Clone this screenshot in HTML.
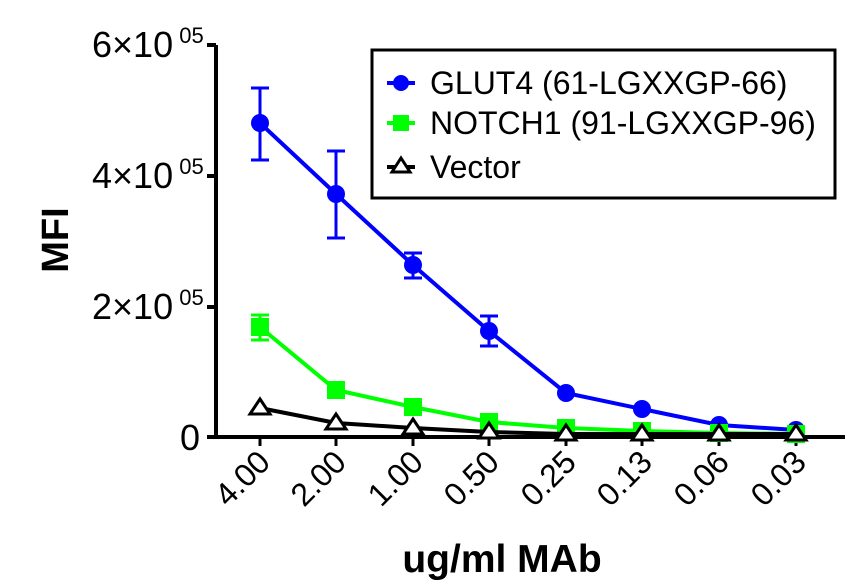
<!DOCTYPE html>
<html><head><style>
html,body{margin:0;padding:0;background:#fff;}
svg{display:block;font-family:"Liberation Sans",Arial,sans-serif;}
</style></head><body>
<svg width="865" height="580" viewBox="0 0 865 580" xmlns="http://www.w3.org/2000/svg">
<rect width="865" height="580" fill="#fff"/>
<g stroke="#000" stroke-width="4" fill="none">
<line x1="216" y1="45" x2="216" y2="439"/>
<line x1="207" y1="437" x2="845" y2="437"/>
<line x1="207" y1="45" x2="216" y2="45"/>
<line x1="207" y1="176" x2="216" y2="176"/>
<line x1="207" y1="307" x2="216" y2="307"/>
<g stroke-width="3">
<line x1="260" y1="437" x2="260" y2="446"/>
<line x1="336" y1="437" x2="336" y2="446"/>
<line x1="413" y1="437" x2="413" y2="446"/>
<line x1="489" y1="437" x2="489" y2="446"/>
<line x1="566" y1="437" x2="566" y2="446"/>
<line x1="642" y1="437" x2="642" y2="446"/>
<line x1="719" y1="437" x2="719" y2="446"/>
<line x1="796" y1="437" x2="796" y2="446"/>
</g>
</g>
<g font-size="36" fill="#000" text-anchor="start">
<text x="92" y="57">6×10<tspan font-size="22" dy="-14"> 05</tspan></text>
<text x="92" y="188">4×10<tspan font-size="22" dy="-14"> 05</tspan></text>
<text x="92" y="319">2×10<tspan font-size="22" dy="-14"> 05</tspan></text>
<text x="180" y="450">0</text>
</g>
<text x="0" y="0" font-size="38" font-weight="bold" transform="translate(68,240) rotate(-90)" text-anchor="middle">MFI</text>
<g font-size="32" text-anchor="end">
<text transform="translate(272,464) rotate(-45)">4.00</text>
<text transform="translate(348,464) rotate(-45)">2.00</text>
<text transform="translate(425,464) rotate(-45)">1.00</text>
<text transform="translate(501,464) rotate(-45)">0.50</text>
<text transform="translate(578,464) rotate(-45)">0.25</text>
<text transform="translate(654,464) rotate(-45)">0.13</text>
<text transform="translate(731,464) rotate(-45)">0.06</text>
<text transform="translate(808,464) rotate(-45)">0.03</text>
</g>
<text x="502" y="572" font-size="39" font-weight="bold" text-anchor="middle">ug/ml MAb</text>
<g stroke="#0000ff" stroke-width="3" fill="none">
<path d="M260,88V160M251,88H269M251,160H269"/>
<path d="M336,151V238M327,151H345M327,238H345"/>
<path d="M413,253V278M404,253H422M404,278H422"/>
<path d="M489,316V346M480,316H498M480,346H498"/>
</g>
<polyline points="260,123 336,194 413,265 489,331 566,393 642,409 719,425 796,430" fill="none" stroke="#0000ff" stroke-width="4"/>
<g fill="#0000ff">
<circle cx="260" cy="123" r="9"/><circle cx="336" cy="194" r="9"/><circle cx="413" cy="265" r="9"/><circle cx="489" cy="331" r="9"/><circle cx="566" cy="393" r="9"/><circle cx="642" cy="409" r="9"/><circle cx="719" cy="425" r="9"/><circle cx="796" cy="430" r="9"/>
</g>
<path d="M260,315V340M251,315H269M251,340H269" stroke="#00ff00" stroke-width="3" fill="none"/>
<polyline points="260,327 336,390 413,407 489,422 566,428 642,431 719,433 796,434" fill="none" stroke="#00ff00" stroke-width="4"/>
<g fill="#00ff00">
<rect x="251" y="318" width="18" height="18"/><rect x="327" y="381" width="18" height="18"/><rect x="404" y="398" width="18" height="18"/><rect x="480" y="413" width="18" height="18"/><rect x="557" y="419" width="18" height="18"/><rect x="633" y="422" width="18" height="18"/><rect x="710" y="424" width="18" height="18"/><rect x="787" y="425" width="18" height="18"/>
</g>
<polyline points="260,408 336,423 413,428 489,432 566,434 642,434 719,434 796,434" fill="none" stroke="#000" stroke-width="4"/>
<g fill="#fff" stroke="#000" stroke-width="3">
<path d="M260,399 L270,414 L250,414Z"/><path d="M336,414 L346,429 L326,429Z"/><path d="M413,419 L423,434 L403,434Z"/><path d="M489,423 L499,438 L479,438Z"/><path d="M566,425 L576,440 L556,440Z"/><path d="M642,425 L652,440 L632,440Z"/><path d="M719,425 L729,440 L709,440Z"/><path d="M796,425 L806,440 L786,440Z"/>
</g>
<rect x="372" y="50" width="463" height="148" fill="#fff" stroke="#000" stroke-width="3"/>
<line x1="387" y1="83" x2="415" y2="83" stroke="#0000ff" stroke-width="4"/>
<circle cx="401" cy="83" r="8" fill="#0000ff"/>
<line x1="387" y1="123" x2="415" y2="123" stroke="#00ff00" stroke-width="4"/>
<rect x="393" y="115" width="16" height="16" fill="#00ff00"/>
<line x1="387" y1="167" x2="415" y2="167" stroke="#000" stroke-width="4"/>
<path d="M401,158 L410,172 L392,172Z" fill="#fff" stroke="#000" stroke-width="3"/>
<g font-size="32">
<text x="430" y="94">GLUT4 (61-LGXXGP-66)</text>
<text x="430" y="134">NOTCH1 (91-LGXXGP-96)</text>
<text x="430" y="178">Vector</text>
</g>
</svg>
</body></html>
